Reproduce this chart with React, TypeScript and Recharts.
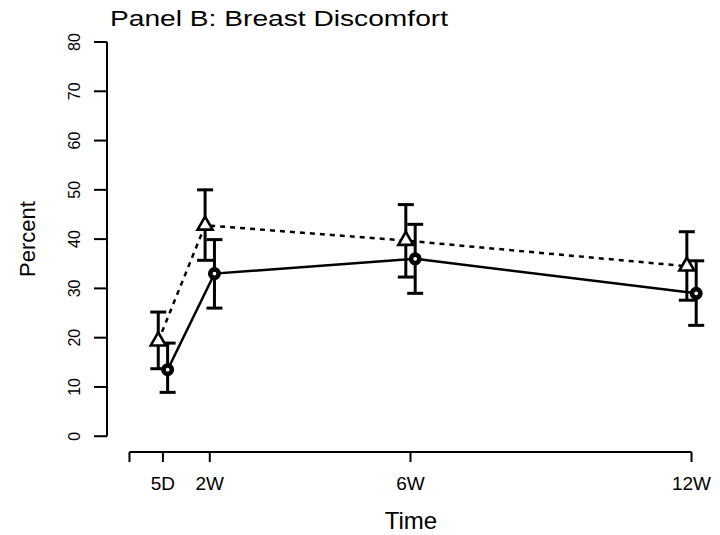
import React from 'react'
import { ComposedChart, Scatter, XAxis, YAxis, ErrorBar, ReferenceLine } from 'recharts'

// visit times in days, with the labels R put on the axis
const visitDays = [5, 12, 42, 84]
const tickDays = [0, 5, 12, 42, 84]
const tickLabels = ['', '5D', '2W', '6W', '12W']
const yTicks = [0, 10, 20, 30, 40, 50, 60, 70, 80]

// triangles, dashed line
const triMean = [19.3, 42.8, 39.7, 34.5]
const triLow = [13.7, 35.7, 32.3, 27.6]
const triHigh = [25.2, 50.0, 47.0, 41.5]

// circles, solid line
const circMean = [13.5, 33.0, 36.0, 29.0]
const circLow = [8.9, 26.0, 29.0, 22.5]
const circHigh = [18.9, 39.9, 43.0, 35.6]

const DODGE = 0.7
const X_MIN = -3.36
const X_MAX = 87.36
const Y_MIN = -3.2
const FONT = '"Liberation Sans", Arial, Helvetica, sans-serif'

const build = (mean: number[], low: number[], high: number[], shift: number) =>
  visitDays.map((d, i) => ({
    x: d + shift,
    y: mean[i],
    err: [mean[i] - low[i], high[i] - mean[i]],
  }))

const triData = build(triMean, triLow, triHigh, -DODGE)
const circData = build(circMean, circLow, circHigh, DODGE)

const Triangle = ({ cx, cy }: any) => {
  const s = 15
  const h = (s * Math.sqrt(3)) / 2
  return (
    <polygon
      points={`${cx},${cy - (h * 2) / 3} ${cx - s / 2},${cy + h / 3} ${cx + s / 2},${cy + h / 3}`}
      fill="#fff"
      stroke="#000"
      strokeWidth={2.6}
    />
  )
}

const Circle = ({ cx, cy }: any) => (
  <circle cx={cx} cy={cy} r={4.2} fill="#fff" stroke="#000" strokeWidth={4.6} />
)

const XTick = ({ x, y, payload }: any) => {
  const i = tickDays.indexOf(payload.value)
  return (
    <text x={x} y={y + 26} textAnchor="middle" fontSize={19} fontFamily={FONT} fill="#000">
      {tickLabels[i]}
    </text>
  )
}

const YTick = ({ x, y, payload }: any) => (
  <text
    x={x - 12}
    y={y}
    transform={`rotate(-90 ${x - 12} ${y})`}
    textAnchor="middle"
    fontSize={16}
    fontFamily={FONT}
    fill="#000"
  >
    {payload.value}
  </text>
)

export default function App() {
  return (
    <div style={{ position: 'absolute', left: 0, top: 0, width: 720, height: 535, background: '#fff' }}>
      <ComposedChart
        width={720}
        height={535}
        margin={{ top: 42, right: 6, left: 47, bottom: 33 }}
      >
        <XAxis
          type="number"
          dataKey="x"
          domain={[X_MIN, X_MAX]}
          ticks={tickDays}
          tick={<XTick />}
          tickSize={10}
          axisLine={false}
          tickLine={{ stroke: '#000', strokeWidth: 2 }}
          height={50}
          allowDataOverflow
        />
        <YAxis
          type="number"
          dataKey="y"
          domain={[Y_MIN, 80]}
          ticks={yTicks}
          tick={<YTick />}
          tickSize={13}
          axisLine={false}
          tickLine={{ stroke: '#000', strokeWidth: 2 }}
          width={60}
          allowDataOverflow
        />
        <ReferenceLine
          segment={[{ x: 0, y: Y_MIN }, { x: 84, y: Y_MIN }]}
          stroke="#000"
          strokeWidth={2}
          ifOverflow="visible"
        />
        <ReferenceLine
          segment={[{ x: X_MIN, y: 0 }, { x: X_MIN, y: 80 }]}
          stroke="#000"
          strokeWidth={2}
          ifOverflow="visible"
        />
        <Scatter
          data={triData}
          shape={<Triangle />}
          line={{ stroke: '#000', strokeWidth: 2.5, strokeDasharray: '5 5' }}
          lineType="joint"
          isAnimationActive={false}
        >
          <ErrorBar dataKey="err" direction="y" width={8} stroke="#000" strokeWidth={3} isAnimationActive={false} />
        </Scatter>
        <Scatter
          data={circData}
          shape={<Circle />}
          line={{ stroke: '#000', strokeWidth: 2.5 }}
          lineType="joint"
          isAnimationActive={false}
        >
          <ErrorBar dataKey="err" direction="y" width={8} stroke="#000" strokeWidth={3} isAnimationActive={false} />
        </Scatter>
      </ComposedChart>
      <svg
        width={720}
        height={535}
        style={{ position: 'absolute', left: 0, top: 0, pointerEvents: 'none' }}
        fontFamily={FONT}
      >
        <text x={110} y={26} fontSize={22} textLength={338} lengthAdjust="spacingAndGlyphs" fill="#000">
          Panel B: Breast Discomfort
        </text>
        <text x={411} y={529} fontSize={24} textAnchor="middle" fill="#000">
          Time
        </text>
        <text x={35} y={239} fontSize={22} textAnchor="middle" transform="rotate(-90 35 239)" fill="#000">
          Percent
        </text>
      </svg>
    </div>
  )
}
